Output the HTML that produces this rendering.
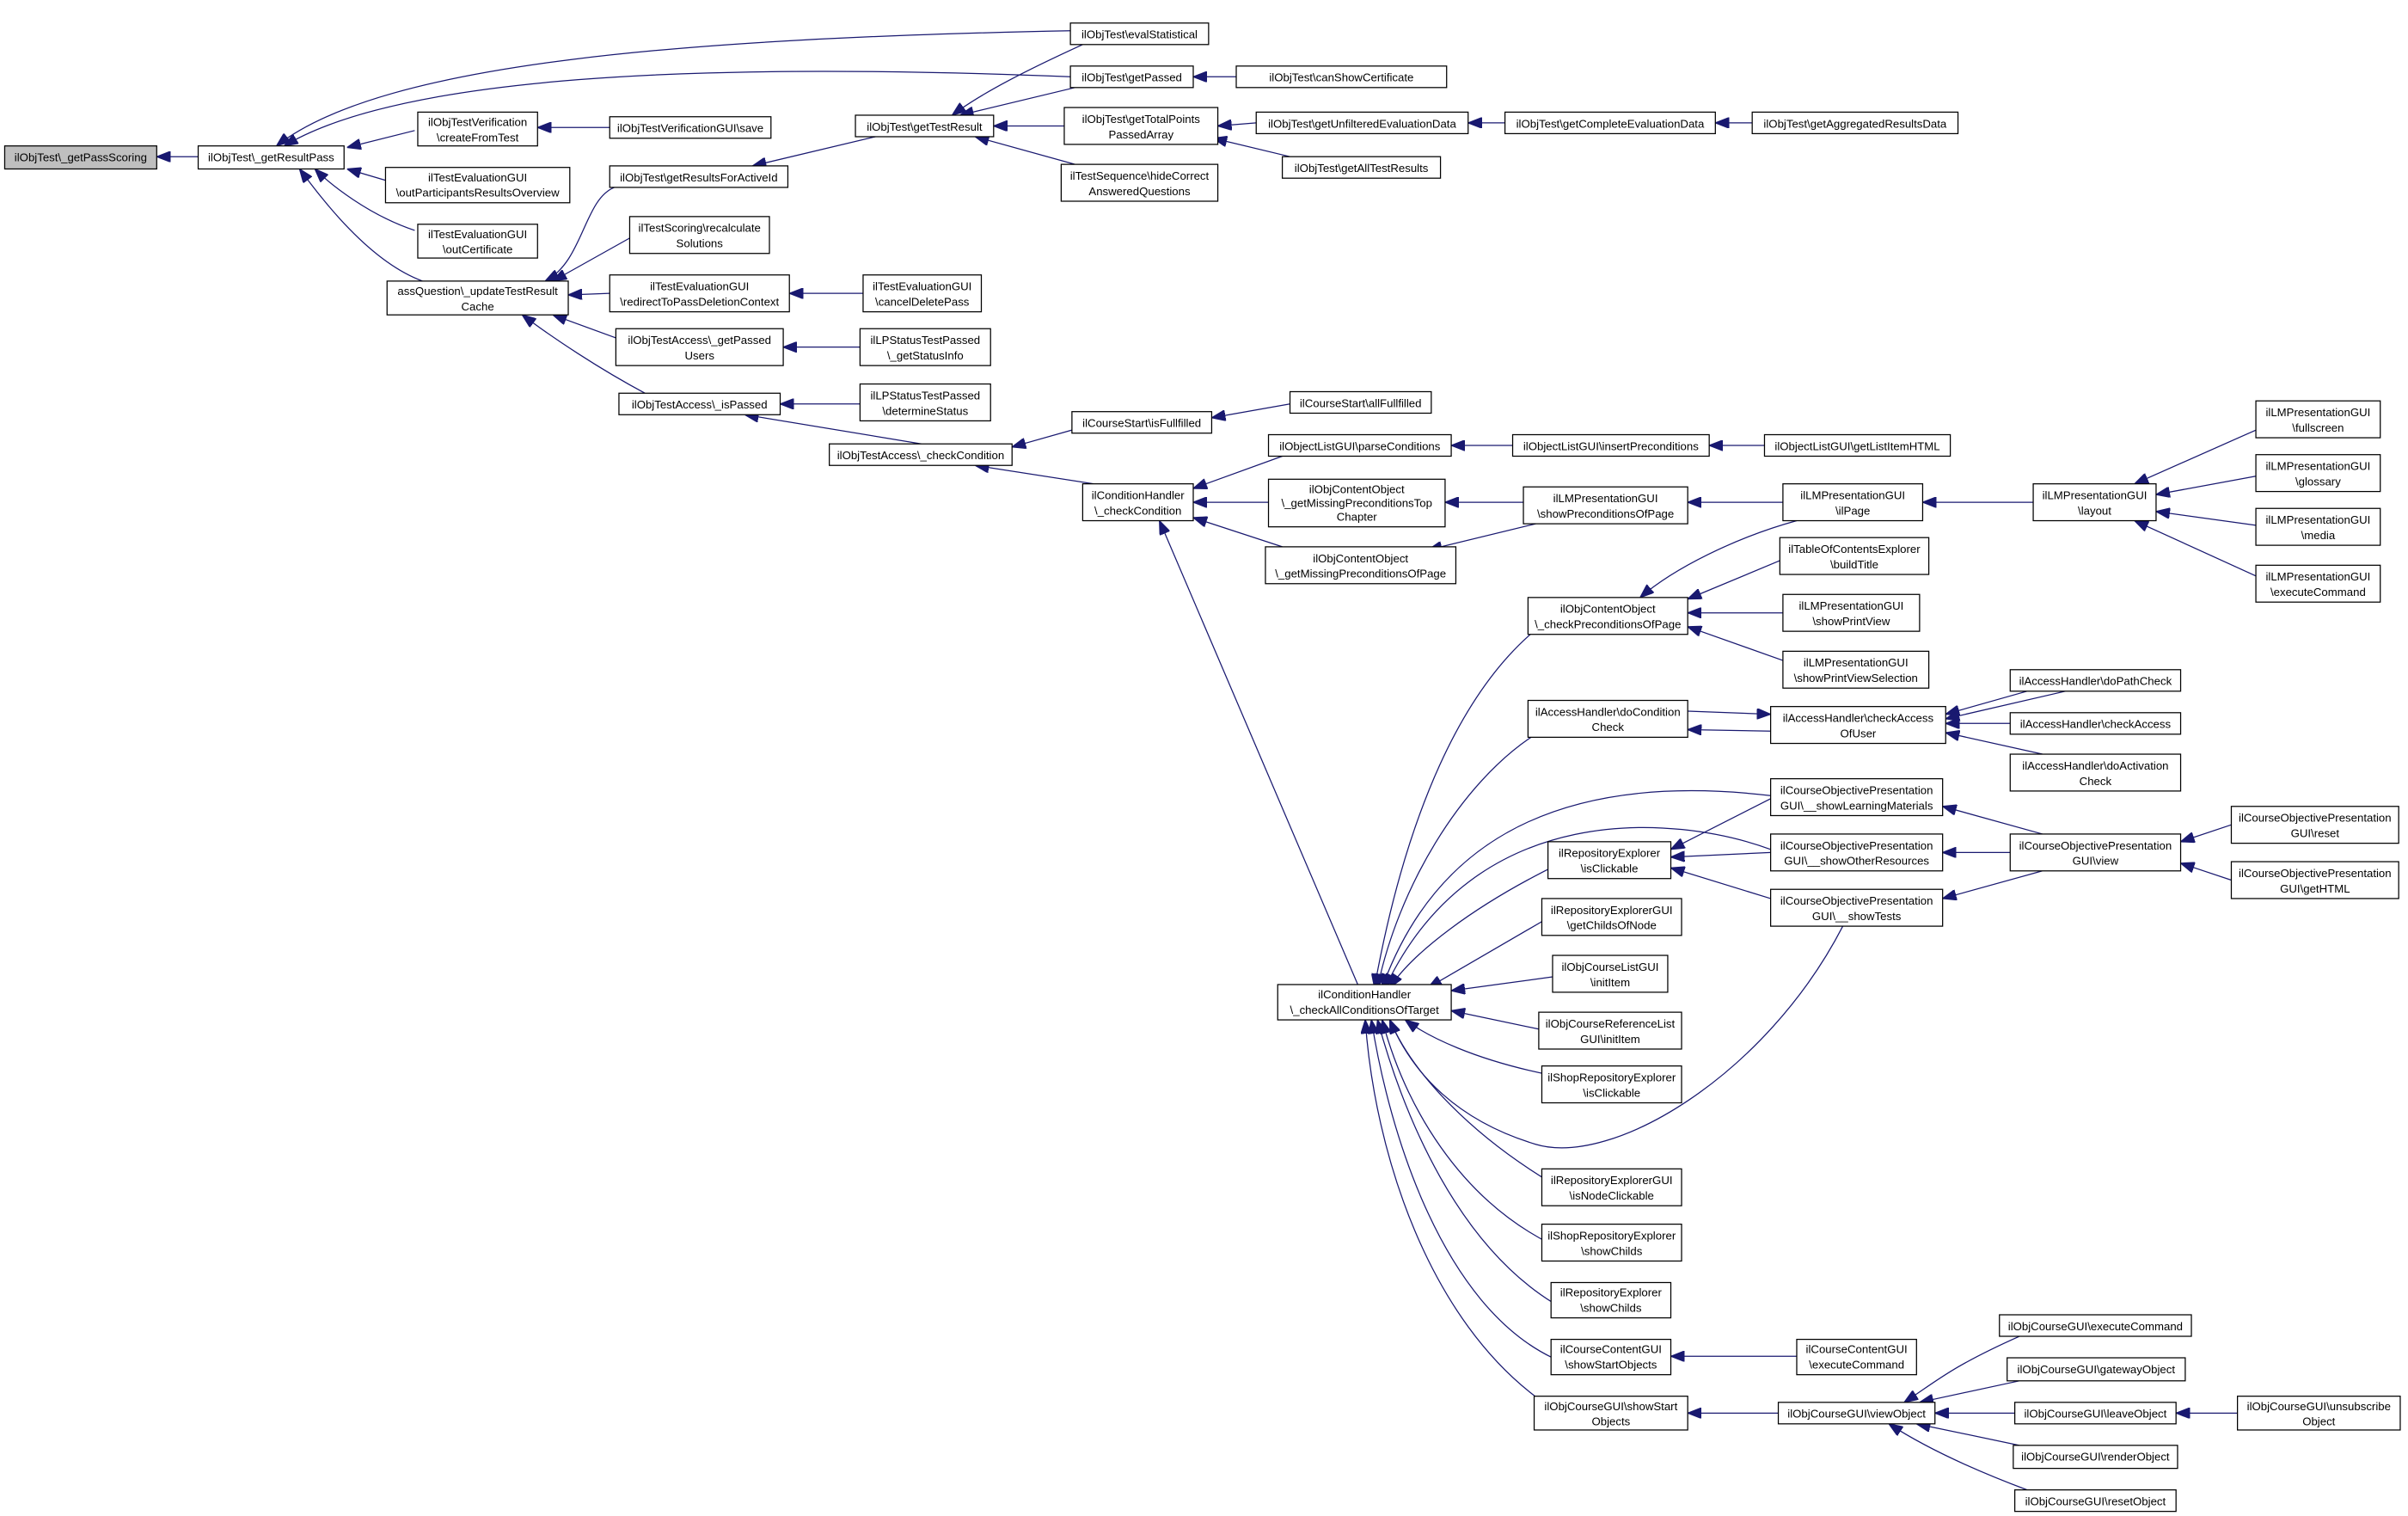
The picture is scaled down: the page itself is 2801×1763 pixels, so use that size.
<!DOCTYPE html>
<html><head><meta charset="utf-8"><style>
html,body{margin:0;padding:0;background:#fff;}
svg{display:block;}
text{font-family:"Liberation Sans",sans-serif;font-size:7.4px;fill:#000;text-anchor:middle;}
rect{fill:#fff;stroke:#000;stroke-width:0.7;}
path{fill:none;stroke:#191970;stroke-width:0.7;}
</style></head><body>
<svg width="2801" height="1763" viewBox="0 0 1568 987" xmlns="http://www.w3.org/2000/svg">
<defs><marker id="a" markerUnits="userSpaceOnUse" markerWidth="9" markerHeight="7" refX="9" refY="3.5" orient="auto"><path d="M0,0 L9,3.5 L0,7 z" style="fill:#191970;stroke:#191970"/></marker></defs>
<g marker-end="url(#a)">
<path d="M129,102 L102,102"/>
<path d="M697,20 C450,25 250,40 180,95"/>
<path d="M697,50 C450,40 260,50 185,95"/>
<path d="M270,85 L226,96"/>
<path d="M253,118 L226,110"/>
<path d="M270,150 C240,140 215,120 205,110"/>
<path d="M275,183 C240,170 210,130 195,110"/>
<path d="M397,83 L350,83"/>
<path d="M400,122 C380,130 380,170 355,183"/>
<path d="M410,155 L360,183"/>
<path d="M397,191 L370,192"/>
<path d="M401,220 L360,205"/>
<path d="M420,256 C390,240 360,220 340,205"/>
<path d="M570,89 L490,108"/>
<path d="M705,29 C670,45 640,60 620,75"/>
<path d="M700,57 L625,75"/>
<path d="M693,82 L647,82"/>
<path d="M700,107 L635,89"/>
<path d="M805,50 L777,50"/>
<path d="M818,80 L793,82"/>
<path d="M840,102 L790,90"/>
<path d="M980,80 L956,80"/>
<path d="M1141,80 L1117,80"/>
<path d="M562,191 L514,191"/>
<path d="M560,226 L510,226"/>
<path d="M560,263 L508,263"/>
<path d="M600,289 L485,270"/>
<path d="M698,280 L659,291"/>
<path d="M712,315 L635,303"/>
<path d="M840,263 L789,272"/>
<path d="M835,297 L777,318"/>
<path d="M826,327 L777,327"/>
<path d="M835,356 L777,337"/>
<path d="M885,643 L755,339"/>
<path d="M985,290 L945,290"/>
<path d="M1149,290 L1113,290"/>
<path d="M992,327 L941,327"/>
<path d="M1000,341 L930,358"/>
<path d="M1161,327 L1099,327"/>
<path d="M1324,327 L1252,327"/>
<path d="M1469,280 L1390,315"/>
<path d="M1469,310 L1404,322"/>
<path d="M1469,342 L1404,333"/>
<path d="M1469,375 L1390,339"/>
<path d="M1170,339 C1130,350 1090,370 1068,389"/>
<path d="M1159,365 L1099,390"/>
<path d="M1161,399 L1099,399"/>
<path d="M1161,430 L1099,408"/>
<path d="M1000,410 C940,460 910,560 895,643"/>
<path d="M1000,478 C950,510 910,580 897,643"/>
<path d="M1153,476 L1099,475"/>
<path d="M1099,463 L1153,465"/>
<path d="M1320,450 L1267,465"/>
<path d="M1345,450 L1267,468"/>
<path d="M1309,471 L1267,471"/>
<path d="M1330,491 L1267,477"/>
<path d="M1153,518 C1000,500 930,560 900,643"/>
<path d="M1153,553 C1090,530 960,520 902,643"/>
<path d="M1200,603 C1150,700 1050,760 1000,745 C950,730 920,700 905,664"/>
<path d="M1153,520 L1088,553"/>
<path d="M1153,555 L1088,558"/>
<path d="M1153,585 L1088,565"/>
<path d="M1330,543 L1265,525"/>
<path d="M1309,555 L1265,555"/>
<path d="M1330,567 L1265,585"/>
<path d="M1453,537 L1420,548"/>
<path d="M1453,573 L1420,562"/>
<path d="M1010,565 C960,590 920,620 905,643"/>
<path d="M1004,600 L930,643"/>
<path d="M1011,636 L945,645"/>
<path d="M1002,670 L945,658"/>
<path d="M1010,700 C960,690 930,675 915,664"/>
<path d="M1010,770 C960,740 920,700 905,664"/>
<path d="M1010,810 C950,780 915,720 900,664"/>
<path d="M1011,848 C950,810 915,730 897,664"/>
<path d="M1011,884 C940,850 905,740 893,664"/>
<path d="M1005,913 C930,860 895,750 889,664"/>
<path d="M1170,883 L1088,883"/>
<path d="M1158,920 L1099,920"/>
<path d="M1315,870 C1270,890 1260,900 1240,913"/>
<path d="M1315,899 L1250,913"/>
<path d="M1312,920 L1260,920"/>
<path d="M1457,920 L1417,920"/>
<path d="M1315,941 L1248,927"/>
<path d="M1320,970 C1280,955 1250,940 1230,927"/>
</g>

<rect x="3" y="95" width="99" height="15" style="fill:#bfbfbf"/><text x="52.5" y="105">ilObjTest\_getPassScoring</text>
<rect x="129" y="95" width="95" height="15"/><text x="176.5" y="105">ilObjTest\_getResultPass</text>
<rect x="272" y="73" width="78" height="22"/><text x="311" y="82">ilObjTestVerification</text><text x="311" y="92">\createFromTest</text>
<rect x="251" y="109" width="120" height="23"/><text x="311" y="118">ilTestEvaluationGUI</text><text x="311" y="128">\outParticipantsResultsOverview</text>
<rect x="272" y="146" width="78" height="22"/><text x="311" y="155">ilTestEvaluationGUI</text><text x="311" y="165">\outCertificate</text>
<rect x="252" y="183" width="118" height="22"/><text x="311" y="192">assQuestion\_updateTestResult</text><text x="311" y="202">Cache</text>

<rect x="697" y="15" width="90" height="14"/><text x="742" y="25">ilObjTest\evalStatistical</text>
<rect x="697" y="43" width="80" height="14"/><text x="737" y="53">ilObjTest\getPassed</text>
<rect x="805" y="43" width="137" height="14"/><text x="873.5" y="53">ilObjTest\canShowCertificate</text>
<rect x="397" y="76" width="105" height="14"/><text x="449.5" y="86">ilObjTestVerificationGUI\save</text>
<rect x="397" y="108" width="116" height="14"/><text x="455" y="118">ilObjTest\getResultsForActiveId</text>
<rect x="557" y="75" width="90" height="14"/><text x="602" y="85">ilObjTest\getTestResult</text>
<rect x="693" y="70" width="100" height="24"/><text x="743" y="80">ilObjTest\getTotalPoints</text><text x="743" y="90">PassedArray</text>
<rect x="818" y="73" width="138" height="14"/><text x="887" y="83">ilObjTest\getUnfilteredEvaluationData</text>
<rect x="980" y="73" width="137" height="14"/><text x="1048.5" y="83">ilObjTest\getCompleteEvaluationData</text>
<rect x="1141" y="73" width="134" height="14"/><text x="1208" y="83">ilObjTest\getAggregatedResultsData</text>
<rect x="835" y="102" width="103" height="14"/><text x="886.5" y="112">ilObjTest\getAllTestResults</text>
<rect x="691" y="107" width="102" height="24"/><text x="742" y="117">ilTestSequence\hideCorrect</text><text x="742" y="127">AnsweredQuestions</text>
<rect x="410" y="141" width="91" height="24"/><text x="455.5" y="151">ilTestScoring\recalculate</text><text x="455.5" y="161">Solutions</text>
<rect x="397" y="179" width="117" height="24"/><text x="455.5" y="189">ilTestEvaluationGUI</text><text x="455.5" y="199">\redirectToPassDeletionContext</text>
<rect x="562" y="179" width="77" height="24"/><text x="600.5" y="189">ilTestEvaluationGUI</text><text x="600.5" y="199">\cancelDeletePass</text>
<rect x="401" y="214" width="109" height="24"/><text x="455.5" y="224">ilObjTestAccess\_getPassed</text><text x="455.5" y="234">Users</text>
<rect x="560" y="214" width="85" height="24"/><text x="602.5" y="224">ilLPStatusTestPassed</text><text x="602.5" y="234">\_getStatusInfo</text>
<rect x="403" y="256" width="105" height="14"/><text x="455.5" y="266">ilObjTestAccess\_isPassed</text>
<rect x="560" y="250" width="85" height="24"/><text x="602.5" y="260">ilLPStatusTestPassed</text><text x="602.5" y="270">\determineStatus</text>
<rect x="540" y="289" width="119" height="14"/><text x="599.5" y="299">ilObjTestAccess\_checkCondition</text>
<rect x="698" y="268" width="91" height="14"/><text x="743.5" y="278">ilCourseStart\isFullfilled</text>
<rect x="840" y="255" width="92" height="14"/><text x="886" y="265">ilCourseStart\allFullfilled</text>
<rect x="705" y="315" width="72" height="24"/><text x="741" y="325">ilConditionHandler</text><text x="741" y="335">\_checkCondition</text>
<rect x="826" y="283" width="119" height="14"/><text x="885.5" y="293">ilObjectListGUI\parseConditions</text>
<rect x="985" y="283" width="128" height="14"/><text x="1049" y="293">ilObjectListGUI\insertPreconditions</text>
<rect x="1149" y="283" width="121" height="14"/><text x="1209.5" y="293">ilObjectListGUI\getListItemHTML</text>
<rect x="826" y="312" width="115" height="31"/><text x="883.5" y="321">ilObjContentObject</text><text x="883.5" y="330">\_getMissingPreconditionsTop</text><text x="883.5" y="339">Chapter</text>
<rect x="824" y="356" width="124" height="24"/><text x="886" y="366">ilObjContentObject</text><text x="886" y="376">\_getMissingPreconditionsOfPage</text>
<rect x="992" y="317" width="107" height="24"/><text x="1045.5" y="327">ilLMPresentationGUI</text><text x="1045.5" y="337">\showPreconditionsOfPage</text>
<rect x="1161" y="315" width="91" height="24"/><text x="1206.5" y="325">ilLMPresentationGUI</text><text x="1206.5" y="335">\ilPage</text>
<rect x="1324" y="315" width="80" height="24"/><text x="1364" y="325">ilLMPresentationGUI</text><text x="1364" y="335">\layout</text>
<rect x="1469" y="261" width="81" height="24"/><text x="1509.5" y="271">ilLMPresentationGUI</text><text x="1509.5" y="281">\fullscreen</text>
<rect x="1469" y="296" width="81" height="24"/><text x="1509.5" y="306">ilLMPresentationGUI</text><text x="1509.5" y="316">\glossary</text>
<rect x="1469" y="331" width="81" height="24"/><text x="1509.5" y="341">ilLMPresentationGUI</text><text x="1509.5" y="351">\media</text>
<rect x="1469" y="368" width="81" height="24"/><text x="1509.5" y="378">ilLMPresentationGUI</text><text x="1509.5" y="388">\executeCommand</text>
<rect x="1159" y="350" width="97" height="24"/><text x="1207.5" y="360">ilTableOfContentsExplorer</text><text x="1207.5" y="370">\buildTitle</text>
<rect x="1161" y="387" width="89" height="24"/><text x="1205.5" y="397">ilLMPresentationGUI</text><text x="1205.5" y="407">\showPrintView</text>
<rect x="1161" y="424" width="95" height="24"/><text x="1208.5" y="434">ilLMPresentationGUI</text><text x="1208.5" y="444">\showPrintViewSelection</text>
<rect x="995" y="389" width="104" height="24"/><text x="1047" y="399">ilObjContentObject</text><text x="1047" y="409">\_checkPreconditionsOfPage</text>
<rect x="995" y="456" width="104" height="24"/><text x="1047" y="466">ilAccessHandler\doCondition</text><text x="1047" y="476">Check</text>
<rect x="1153" y="460" width="114" height="24"/><text x="1210" y="470">ilAccessHandler\checkAccess</text><text x="1210" y="480">OfUser</text>
<rect x="1309" y="436" width="111" height="14"/><text x="1364.5" y="446">ilAccessHandler\doPathCheck</text>
<rect x="1309" y="464" width="111" height="14"/><text x="1364.5" y="474">ilAccessHandler\checkAccess</text>
<rect x="1309" y="491" width="111" height="24"/><text x="1364.5" y="501">ilAccessHandler\doActivation</text><text x="1364.5" y="511">Check</text>
<rect x="1153" y="507" width="112" height="24"/><text x="1209" y="517">ilCourseObjectivePresentation</text><text x="1209" y="527">GUI\__showLearningMaterials</text>
<rect x="1153" y="543" width="112" height="24"/><text x="1209" y="553">ilCourseObjectivePresentation</text><text x="1209" y="563">GUI\__showOtherResources</text>
<rect x="1153" y="579" width="112" height="24"/><text x="1209" y="589">ilCourseObjectivePresentation</text><text x="1209" y="599">GUI\__showTests</text>
<rect x="1309" y="543" width="111" height="24"/><text x="1364.5" y="553">ilCourseObjectivePresentation</text><text x="1364.5" y="563">GUI\view</text>
<rect x="1453" y="525" width="109" height="24"/><text x="1507.5" y="535">ilCourseObjectivePresentation</text><text x="1507.5" y="545">GUI\reset</text>
<rect x="1453" y="561" width="109" height="24"/><text x="1507.5" y="571">ilCourseObjectivePresentation</text><text x="1507.5" y="581">GUI\getHTML</text>
<rect x="1008" y="548" width="80" height="24"/><text x="1048" y="558">ilRepositoryExplorer</text><text x="1048" y="568">\isClickable</text>
<rect x="1004" y="585" width="91" height="24"/><text x="1049.5" y="595">ilRepositoryExplorerGUI</text><text x="1049.5" y="605">\getChildsOfNode</text>
<rect x="1011" y="622" width="75" height="24"/><text x="1048.5" y="632">ilObjCourseListGUI</text><text x="1048.5" y="642">\initItem</text>
<rect x="1002" y="659" width="93" height="24"/><text x="1048.5" y="669">ilObjCourseReferenceList</text><text x="1048.5" y="679">GUI\initItem</text>
<rect x="1004" y="694" width="91" height="24"/><text x="1049.5" y="704">ilShopRepositoryExplorer</text><text x="1049.5" y="714">\isClickable</text>
<rect x="832" y="641" width="113" height="23"/><text x="888.5" y="650">ilConditionHandler</text><text x="888.5" y="660">\_checkAllConditionsOfTarget</text>
<rect x="1004" y="761" width="91" height="24"/><text x="1049.5" y="771">ilRepositoryExplorerGUI</text><text x="1049.5" y="781">\isNodeClickable</text>
<rect x="1004" y="797" width="91" height="24"/><text x="1049.5" y="807">ilShopRepositoryExplorer</text><text x="1049.5" y="817">\showChilds</text>
<rect x="1010" y="835" width="78" height="23"/><text x="1049" y="844">ilRepositoryExplorer</text><text x="1049" y="854">\showChilds</text>
<rect x="1010" y="872" width="78" height="23"/><text x="1049" y="881">ilCourseContentGUI</text><text x="1049" y="891">\showStartObjects</text>
<rect x="1170" y="872" width="78" height="23"/><text x="1209" y="881">ilCourseContentGUI</text><text x="1209" y="891">\executeCommand</text>
<rect x="999" y="909" width="100" height="22"/><text x="1049" y="918">ilObjCourseGUI\showStart</text><text x="1049" y="928">Objects</text>
<rect x="1158" y="913" width="102" height="14"/><text x="1209" y="923">ilObjCourseGUI\viewObject</text>
<rect x="1302" y="856" width="125" height="14"/><text x="1364.5" y="866">ilObjCourseGUI\executeCommand</text>
<rect x="1307" y="884" width="116" height="15"/><text x="1365" y="894">ilObjCourseGUI\gatewayObject</text>
<rect x="1312" y="913" width="105" height="14"/><text x="1364.5" y="923">ilObjCourseGUI\leaveObject</text>
<rect x="1457" y="909" width="106" height="22"/><text x="1510" y="918">ilObjCourseGUI\unsubscribe</text><text x="1510" y="928">Object</text>
<rect x="1311" y="941" width="107" height="15"/><text x="1364.5" y="951">ilObjCourseGUI\renderObject</text>
<rect x="1312" y="970" width="105" height="14"/><text x="1364.5" y="980">ilObjCourseGUI\resetObject</text>
</svg>
</body></html>
